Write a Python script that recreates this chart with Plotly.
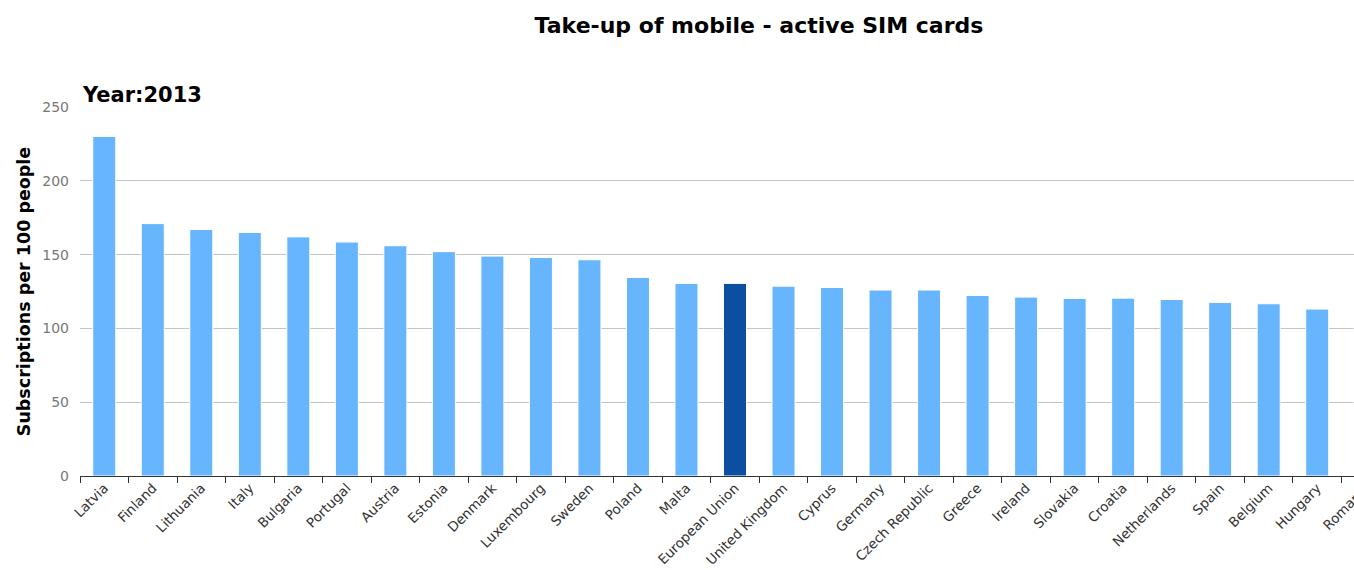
import plotly.graph_objects as go

countries = ["Latvia", "Finland", "Lithuania", "Italy", "Bulgaria", "Portugal", "Austria",
             "Estonia", "Denmark", "Luxembourg", "Sweden", "Poland", "Malta", "European Union",
             "United Kingdom", "Cyprus", "Germany", "Czech Republic", "Greece", "Ireland",
             "Slovakia", "Croatia", "Netherlands", "Spain", "Belgium", "Hungary", "Romania"]
values = [230, 171, 167, 165, 162, 158.5, 156, 152, 149, 148, 146.5, 134.5, 130.5, 130.5,
          128.6, 127.7, 126, 126, 122.3, 121.2, 120.3, 120.5, 119.6, 117.6, 116.7, 113.1, 112.2]
highlight = "European Union"
y_ticks = [0, 50, 100, 150, 200, 250]

colors = ["#0b4ea2" if c == highlight else "#66b5fd" for c in countries]

fig = go.Figure(go.Bar(
    x=countries, y=values,
    marker=dict(color=colors, line=dict(color="white", width=1)),
    hoverinfo="x+y",
))

FONT = "DejaVu Sans"
fig.update_layout(
    width=1400, height=570,
    margin=dict(l=80, r=10, t=107, b=94, autoexpand=False),
    plot_bgcolor="white", paper_bgcolor="white",
    bargap=0.526,
    showlegend=False,
    font=dict(family=FONT, color="#333"),
    title=dict(text="<b>Take-up of mobile - active SIM cards</b>",
               font=dict(family=FONT, size=22, color="#000"),
               xref="container", x=759 / 1400, xanchor="center",
               yref="container", y=1 - 25 / 570, yanchor="middle"),
    annotations=[dict(text="<b>Year:2013</b>", xref="paper", yref="paper",
                      x=0, y=1, xanchor="left", yanchor="bottom", showarrow=False,
                      font=dict(family=FONT, size=21, color="#000"), yshift=-2)],
)
fig.update_xaxes(
    type="category", range=[-0.5, len(countries) - 0.5], automargin=False,
    tickangle=-45, tickfont=dict(family=FONT, size=13.5, color="#333"),
    ticklabelstandoff=-2,
    showline=True, linecolor="#333", linewidth=1,
    ticks="outside", tickson="boundaries", ticklen=6, tickcolor="#333",
    showgrid=False,
)
fig.update_yaxes(
    range=[0, 250], tickvals=y_ticks, automargin=False,
    tickfont=dict(family=FONT, size=14, color="#777"), ticklabelstandoff=10,
    showgrid=True, gridcolor="#c4c4c4", gridwidth=1,
    zeroline=False, showline=False, ticks="",
    title=dict(text="<b>Subscriptions per 100 people</b>",
               font=dict(family=FONT, size=17.5, color="#000"), standoff=7),
)

fig.write_html("out.html", config={"displayModeBar": False},
               post_script="document.body.style.margin='0';document.body.style.overflow='hidden';")
